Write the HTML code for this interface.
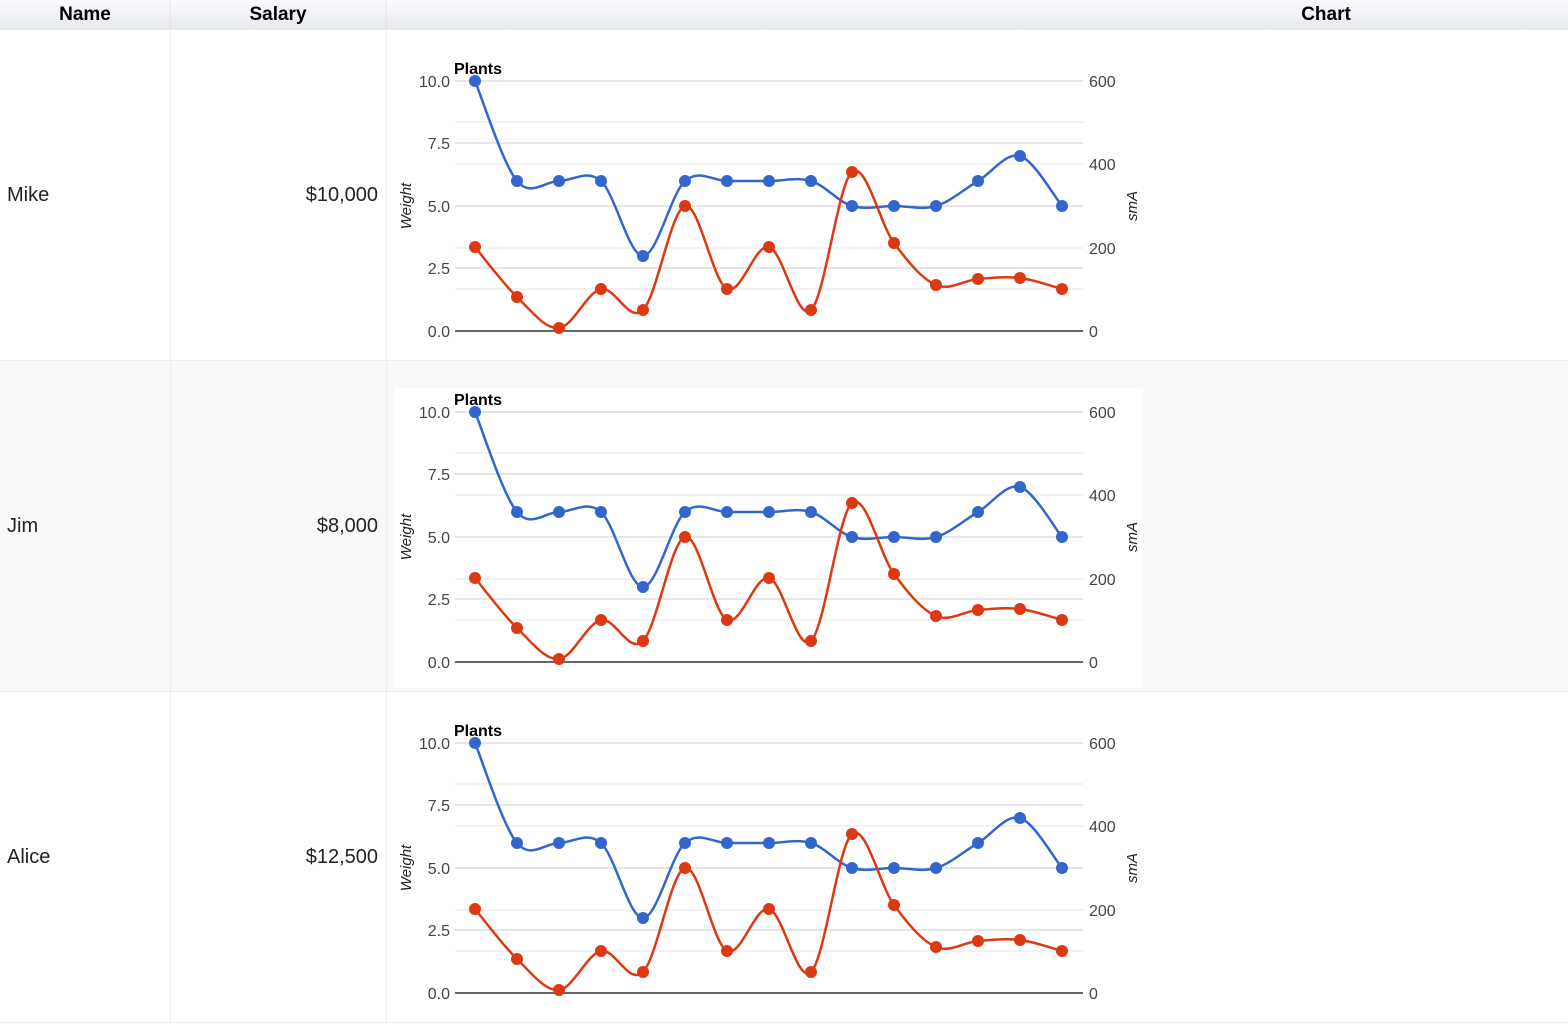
<!DOCTYPE html>
<html><head><meta charset="utf-8"><style>
body{margin:0;width:1568px;height:1024px;overflow:hidden;background:#fff;font-family:"Liberation Sans",Arial,sans-serif}
svg{position:absolute;left:0;top:0}
</style></head><body>
<svg id="s" width="1568" height="1024" xmlns="http://www.w3.org/2000/svg">
<defs><linearGradient id="hg" x1="0" y1="0" x2="0" y2="1"><stop offset="0" stop-color="#fbfbfd"/><stop offset="1" stop-color="#e6e8f0"/></linearGradient></defs>
<rect x="0" y="0" width="1568" height="30" fill="url(#hg)"/>
<line x1="170" y1="0" x2="170" y2="30" stroke="#e3e3ea"/>
<line x1="386" y1="0" x2="386" y2="30" stroke="#e3e3ea"/>
<g font-weight="bold" font-size="19" fill="#000" text-anchor="middle">
<text x="85" y="20">Name</text><text x="278" y="20">Salary</text><text x="1326" y="20">Chart</text></g>
<rect x="0" y="361" width="1568" height="330" fill="#f9f9f9"/>
<rect x="394" y="388" width="749" height="300" fill="#fff"/>
<g stroke="#eee"><line x1="0" y1="360.5" x2="1568" y2="360.5"/><line x1="0" y1="691.5" x2="1568" y2="691.5"/><line x1="0" y1="1022.5" x2="1568" y2="1022.5"/>
<line x1="170.5" y1="30" x2="170.5" y2="1024"/><line x1="386.5" y1="30" x2="386.5" y2="1024"/></g>
<g font-size="20" fill="#222">
<text x="7" y="201">Mike</text><text x="378" y="201" text-anchor="end">$10,000</text>
<text x="7" y="532">Jim</text><text x="378" y="532" text-anchor="end">$8,000</text>
<text x="7" y="863">Alice</text><text x="378" y="863" text-anchor="end">$12,500</text></g>
<g id="charts"></g>
</svg>
<script>
var xs=[475,517,559,601,643,685,727,769,811,852,894,936,978,1020,1062];
var bv=[10,6,6,6,3,6,6,6,6,5,5,5,6,7,5];
var ry=[247,297,328,289,310,206,289,247,310,172,243,285,279,278,289];
function path(p){var d="M"+p[0][0]+","+p[0][1];for(var i=0;i<p.length-1;i++){var a=p[i-1]||p[i],b=p[i],c=p[i+1],e=p[i+2]||c;var t=6;d+=" C"+(b[0]+(c[0]-a[0])/t)+","+(b[1]+(c[1]-a[1])/t)+" "+(c[0]-(e[0]-b[0])/t)+","+(c[1]-(e[1]-b[1])/t)+" "+c[0]+","+c[1];}return d;}
var h="";
[0,331,662].forEach(function(dy){
 var g='<g transform="translate(0,'+dy+')">';
 [122,164,248,289].forEach(function(y){g+='<line x1="455" x2="1083" y1="'+y+'" y2="'+y+'" stroke="#e6e6e6"/>';});
 [81,143,206,268].forEach(function(y){g+='<line x1="455" x2="1083" y1="'+y+'" y2="'+y+'" stroke="#ccc"/>';});
 g+='<line x1="455" x2="1083" y1="331" y2="331" stroke="#333" stroke-width="1.5"/>';
 g+='<g font-size="16" fill="#444" text-anchor="end">';
 [["10.0",81],["7.5",143],["5.0",206],["2.5",268],["0.0",331]].forEach(function(l){g+='<text x="450" y="'+(l[1]+6)+'">'+l[0]+'</text>';});
 g+='</g><g font-size="16" fill="#444">';
 [["600",81],["400",164],["200",248],["0",331]].forEach(function(l){g+='<text x="1089" y="'+(l[1]+6)+'">'+l[0]+'</text>';});
 g+='</g><text x="454" y="74" font-size="16" font-weight="bold">Plants</text>';
 g+='<text transform="translate(411,206) rotate(-90)" font-size="15" font-style="italic" fill="#222" text-anchor="middle">Weight</text>';
 g+='<text transform="translate(1137,206) rotate(-90)" font-size="15" font-style="italic" fill="#222" text-anchor="middle">smA</text>';
 var bp=xs.map(function(x,i){return[x,331-bv[i]*25];}), rp=xs.map(function(x,i){return[x,ry[i]];});
 g+='<path d="'+path(bp)+'" fill="none" stroke="#3366cc" stroke-width="2.5"/>';
 g+='<path d="'+path(rp)+'" fill="none" stroke="#dc3912" stroke-width="2.5"/>';
 bp.forEach(function(p){g+='<circle cx="'+p[0]+'" cy="'+p[1]+'" r="6" fill="#3366cc"/>';});
 rp.forEach(function(p){g+='<circle cx="'+p[0]+'" cy="'+p[1]+'" r="6" fill="#dc3912"/>';});
 h+=g+'</g>';
});
document.getElementById("charts").innerHTML=h;
</script>
</body></html>
